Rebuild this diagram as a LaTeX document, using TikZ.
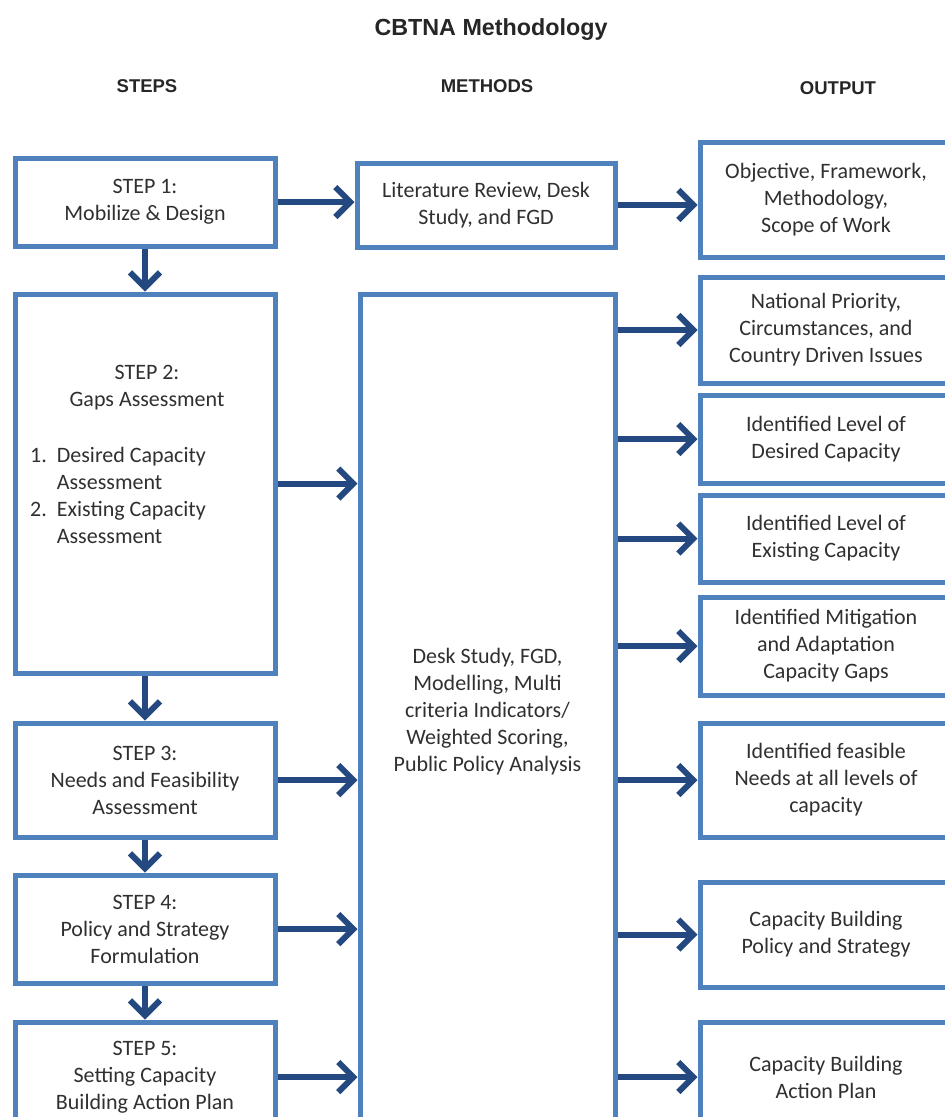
\documentclass[tikz,border=0pt]{standalone}
\usepackage{fontspec}
\setmainfont{Carlito}
\newfontfamily\headfont{Liberation Sans}
\usepackage{xcolor}
\usetikzlibrary{arrows.meta,positioning}
\definecolor{boxblue}{RGB}{79,129,189}
\definecolor{arrblue}{RGB}{36,72,128}
\definecolor{txtgray}{RGB}{48,48,48}

\begin{document}
\begin{tikzpicture}[x=1pt, y=-1pt,
  box/.style={draw=boxblue, line width=5pt, fill=white, inner sep=0pt, align=center,
    text=txtgray, font=\fontsize{22}{27}\selectfont},
  stepbox/.style={box, minimum width=260pt},
  outbox/.style={box, minimum width=252pt},
  txt/.style={text=txtgray, font=\fontsize{22}{27}\selectfont, inner sep=0pt},
  head/.style={font=\headfont\bfseries\fontsize{18.5}{22}\selectfont, text=black!85},
  arr/.style={draw=arrblue, line width=6pt, -{Straight Barb[length=15pt, width=30pt]}},
]
\path[use as bounding box, clip] (0,0) rectangle (945,1117);
\fill[white] (0,0) rectangle (945,1117);

\node[font=\headfont\bfseries\fontsize{23.3}{27}\selectfont, text=black!85] (title) at (491,30) {CBTNA Methodology};
\node[head] (hsteps) at (147,86) {STEPS};
\node[head] (hmeth) at (487,86) {METHODS};
\node[head] (hout) at (838,88) {OUTPUT};

\node[stepbox, minimum height=88pt] (s1) at (145,202) {STEP 1:\\Mobilize \& Design};
\node[stepbox, minimum height=379pt] (s2) at (145,483.5) {};
\node[txt, align=center] (s2t) at (147,388) {STEP 2:\\Gaps Assessment};
\node[txt, anchor=west] (s2l) at (30,498) {\begin{tabular}{@{}l@{\hspace{10pt}}l@{}}
  1. & Desired Capacity\\ & Assessment\\ 2. & Existing Capacity\\ & Assessment\end{tabular}};
\node[stepbox, minimum height=114pt] (s3) at (145,780) {STEP 3:\\Needs and Feasibility\\Assessment};
\node[stepbox, minimum height=108pt] (s4) at (145,929) {STEP 4:\\Policy and Strategy\\Formulation};
\node[stepbox, minimum height=110pt] (s5) at (145,1077) {STEP 5:\\Setting Capacity\\Building Action Plan};

\node[box, minimum width=258pt, minimum height=84pt] (m1) at (486,205) {Literature Review, Desk\\Study, and FGD};
\node[box, minimum width=255pt, minimum height=836pt] (m2) at (487.5,712) {Desk Study, FGD,\\Modelling, Multi\\criteria Indicators/\\Weighted Scoring,\\Public Policy Analysis};

\node[outbox, minimum height=115pt] (o1) at (826,199.5) {Objective, Framework,\\Methodology,\\Scope of Work};
\node[outbox, minimum height=106pt] (o2) at (826,330) {National Priority,\\Circumstances, and\\Country Driven Issues};
\node[outbox, minimum height=88pt] (o3) at (826,439) {Identified Level of\\Desired Capacity};
\node[outbox, minimum height=87pt] (o4) at (826,538.5) {Identified Level of\\Existing Capacity};
\node[outbox, minimum height=98pt] (o5) at (826,646) {Identified Mitigation\\and Adaptation\\Capacity Gaps};
\node[outbox, minimum height=114pt] (o6) at (826,780) {Identified feasible\\Needs at all levels of\\capacity};
\node[outbox, minimum height=105pt] (o7) at (826,934.5) {Capacity Building\\Policy and Strategy};
\node[outbox, minimum height=110pt] (o8) at (826,1077) {Capacity Building\\Action Plan};

\draw[arr] (s1.south) -- (s2.north);
\draw[arr] (s2.south) -- (s3.north);
\draw[arr] (s3.south) -- (s4.north);
\draw[arr] (s4.south) -- (s5.north);
\draw[arr] (s1.east) -- (m1.west |- s1.east);
\draw[arr] (m1.east) -- (o1.west |- m1.east);
\foreach \s in {s2,s3,s4,s5}
  \draw[arr] (\s.east) -- (m2.west |- \s.east);
\foreach \o in {o2,o3,o4,o5,o6,o7,o8}
  \draw[arr] (m2.east |- \o.west) -- (\o.west);
\end{tikzpicture}
\end{document}
